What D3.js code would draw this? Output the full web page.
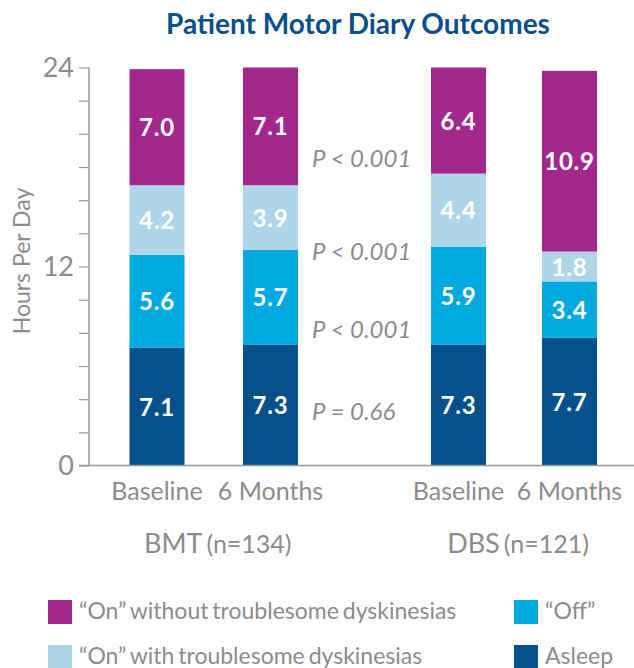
<!DOCTYPE html>
<html>
<head>
<meta charset="utf-8">
<script src="https://d3js.org/d3.v7.min.js"></script>
<style>
  body { margin: 0; background: #fff; font-family: Lato, 'Open Sans', sans-serif; }
</style>
</head>
<body>
<svg id="chart"></svg>
<script>
// data
const bars = ["BMT Baseline", "BMT 6 Months", "DBS Baseline", "DBS 6 Months"];
const barLabels = ["Baseline", "6 Months", "Baseline", "6 Months"];
const seriesNames = ["Asleep", "\u201COff\u201D", "\u201COn\u201D with troublesome dyskinesias", "\u201COn\u201D without troublesome dyskinesias"];
const asleep = [7.1, 7.3, 7.3, 7.7];
const off = [5.6, 5.7, 5.9, 3.4];
const onWith = [4.2, 3.9, 4.4, 1.8];
const onWithout = [7.0, 7.1, 6.4, 10.9];
const groups = [{ name: "BMT", n: "(n=134)" }, { name: "DBS", n: "(n=121)" }];
const pValues = ["P < 0.001", "P < 0.001", "P < 0.001", "P = 0.66"];
const pLevels = [18.5, 12.9, 8.2, 3.2]; // y (hours) where each p label sits
const yTicks = [0, 12, 24];

const colors = ["#04518c", "#00a9e0", "#aed6e8", "#a3288e"];
const gray = "#8c8c8c";

const W = 634, H = 668;
const svg = d3.select("#chart").attr("width", W).attr("height", H);

const y = d3.scaleLinear().domain([0, 24]).range([465.5, 67.5]);
const x = d3.scaleOrdinal().domain(bars).range([129.5, 243, 431, 542]);
const bw = 55;

// title
svg.append("text").attr("x", 358).attr("y", 34).attr("text-anchor", "middle")
  .attr("font-size", 28).attr("font-weight", 700).attr("fill", "#0b4f8a")
  .text("Patient Motor Diary Outcomes");

// stacked data
const table = bars.map((b, i) => ({ bar: b, s0: asleep[i], s1: off[i], s2: onWith[i], s3: onWithout[i] }));
const stack = d3.stack().keys(["s0", "s1", "s2", "s3"])(table);

const g = svg.append("g");
stack.forEach((layer, li) => {
  g.selectAll(null).data(layer).enter().append("rect")
    .attr("x", d => x(d.data.bar))
    .attr("width", bw)
    .attr("y", d => y(d[1]))
    .attr("height", d => y(d[0]) - y(d[1]))
    .attr("fill", colors[li]);
  g.selectAll(null).data(layer).enter().append("text")
    .attr("x", d => x(d.data.bar) + bw / 2)
    .attr("y", d => (y(d[0]) + y(d[1])) / 2 + 9)
    .attr("text-anchor", "middle")
    .attr("font-size", 24).attr("font-weight", 700).attr("fill", "#fff")
    .attr("letter-spacing", 0.8)
    .text(d => (d[1] - d[0]).toFixed(1));
});

// y axis
const axis = d3.axisLeft(y).tickValues(d3.range(0, 25, 2)).tickSize(10).tickFormat("");
const ag = svg.append("g").attr("transform", "translate(89,0)").call(axis);
ag.select(".domain").attr("stroke", "#999").attr("stroke-width", 1.5).attr("d", `M0,${y(24)}V${y(0)}`);
ag.selectAll(".tick line").attr("stroke", "#999").attr("stroke-width", 1.2);
svg.selectAll(null).data(yTicks).enter().append("text")
  .attr("x", 74).attr("y", d => y(d) + 9).attr("text-anchor", "end")
  .attr("font-size", 27).attr("fill", gray).text(d => d);

// baseline
svg.append("line").attr("x1", 79).attr("x2", 634).attr("y1", y(0)).attr("y2", y(0))
  .attr("stroke", "#999").attr("stroke-width", 1.5);

// y title
svg.append("text").attr("transform", `translate(30,261) rotate(-90)`)
  .attr("text-anchor", "middle").attr("font-size", 23).attr("fill", gray).text("Hours Per Day");

// x labels
svg.selectAll(null).data(bars).enter().append("text")
  .attr("x", (d, i) => x(d) + bw / 2).attr("y", 500).attr("text-anchor", "middle")
  .attr("font-size", 25).attr("fill", gray).text((d, i) => barLabels[i]);

// group labels
const gl = svg.selectAll(null).data(groups).enter().append("text")
  .attr("x", (d, i) => (x(bars[i * 2]) + x(bars[i * 2 + 1]) + bw) / 2 + 4)
  .attr("y", 553).attr("text-anchor", "middle").attr("fill", gray);
gl.append("tspan").attr("font-size", 27).text(d => d.name);
gl.append("tspan").attr("font-size", 25).attr("dx", 4).text(d => d.n);

// p values
svg.selectAll(null).data(pValues).enter().append("text")
  .attr("x", 312).attr("y", (d, i) => y(pLevels[i]) + 8)
  .attr("font-size", 24).attr("font-style", "italic").attr("fill", gray).text(d => d);

// legend
const legendItems = [
  { c: colors[3], t: seriesNames[3], x: 48, y: 600 },
  { c: colors[2], t: seriesNames[2], x: 48, y: 645 },
  { c: colors[1], t: seriesNames[1], x: 514, y: 600 },
  { c: colors[0], t: seriesNames[0], x: 514, y: 645 }
];
const lg = svg.selectAll(null).data(legendItems).enter().append("g");
lg.append("rect").attr("x", d => d.x).attr("y", d => d.y).attr("width", 24).attr("height", 24).attr("fill", d => d.c);
lg.append("text").attr("x", d => d.x + 31).attr("y", d => d.y + 19)
  .attr("font-size", 23).attr("word-spacing", -2).attr("fill", gray).text(d => d.t);
</script>
</body>
</html>
